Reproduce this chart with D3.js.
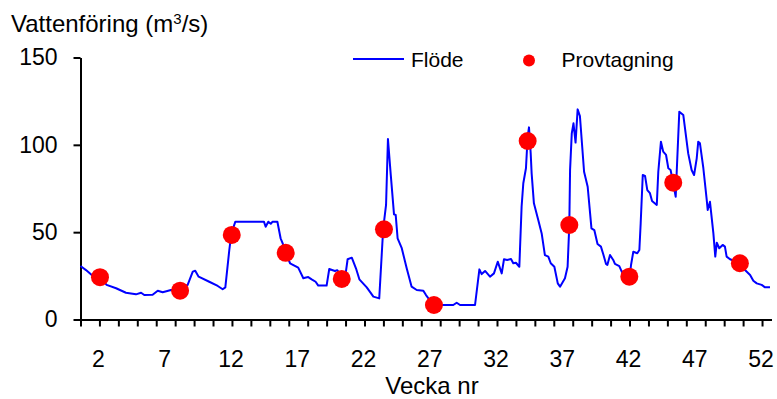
<!DOCTYPE html>
<html><head><meta charset="utf-8">
<script src="https://cdn.jsdelivr.net/npm/d3@7"></script>
<style>
body{margin:0;background:#fff}
svg{display:block}
text{font-family:"Liberation Sans",Arial,Helvetica,sans-serif;fill:#000}
</style>
</head><body>
<svg id="c" width="777" height="399"></svg>
<script>
// Daily flow (day of year) and values in m3/s
const flowDay = [0,2.9,6.1,10.3,13.8,18.8,24.0,29.3,32.0,33.7,38.1,40.8,43.4,47.8,52.6,56.6,59.3,60.6,62.4,68.0,72.5,75.1,76.5,78.6,79.7,81.8,96.9,97.8,99.2,100.5,101.5,104.0,105.7,106.8,108.4,110.7,115.0,117.7,118.6,120.3,122.1,124.2,125.6,130.0,131.4,134.4,135.6,138.0,140.2,141.1,143.3,145.5,147.3,151.2,154.7,157.8,159.9,161.4,162.4,163.9,165.6,166.5,167.5,169.7,172.3,174.9,177.6,181.1,182.5,186.4,196.9,198.7,200.5,208.4,210.7,211.9,213.7,216.3,218.4,220.4,222.5,223.7,225.4,227.4,228.6,230.0,231.8,233.0,233.9,235.3,236.2,236.9,237.8,238.3,239.5,241.8,243.6,245.3,247.1,248.4,250.3,252.1,253.3,255.9,257.3,258.2,258.6,259.5,260.4,261.5,262.6,263.8,266.0,267.9,269.9,271.4,273.1,274.9,276.1,277.6,278.3,279.7,281.4,282.3,284.6,285.9,288.1,289.9,290.8,292.0,294.1,295.2,295.9,297.0,298.2,299.4,300.8,301.9,304.4,305.2,306.6,307.8,309.3,310.5,311.7,313.1,314.4,314.9,316.3,318.4,321.0,322.8,324.1,325.5,326.3,327.2,329.0,330.8,331.3,332.5,334.3,335.3,336.1,337.4,339.2,340.4,341.3,343.1,348.4,351.0,353.7,355.4,357.2,359.8,361.6,364.2];
const flowValue = [30.6,28.3,25.3,24.0,19.8,17.9,15.3,14.4,15.3,14.0,14.2,16.5,15.6,16.9,16.6,19.8,27.4,27.9,24.5,21.6,19.2,17.3,18.4,39.8,49.3,56.0,56.0,53.1,56.0,54.8,56.0,56.0,46.5,43.6,38.2,32.2,29.7,23.6,23.9,24.3,23.0,21.6,19.4,19.4,28.9,27.8,28.2,24.9,27.4,34.5,35.4,29.3,23.0,18.4,13.1,12.1,52.2,65.6,103.3,82.7,60.2,59.8,46.5,40.8,29.3,18.8,16.9,16.5,14.0,8.3,8.3,9.6,8.3,8.3,28.7,26.0,27.8,24.5,26.4,33.1,26.4,34.5,34.1,34.6,32.2,32.5,30.2,64.6,78.0,86.6,104.7,110.0,95.1,83.7,66.5,57.0,49.3,36.9,36.0,32.2,30.2,20.7,18.8,23.6,30.2,54.1,85.6,106.6,112.3,101.3,120.3,116.5,84.6,76.0,52.2,51.2,43.2,41.7,37.5,31.8,31.2,36.9,34.1,31.8,30.6,27.4,23.8,22.6,31.2,38.8,37.9,39.8,55.1,82.7,82.2,74.1,72.3,67.8,65.6,84.6,101.8,96.1,94.2,86.6,85.6,78.0,70.3,83.7,119.0,117.1,95.1,85.6,82.7,92.3,101.8,100.9,86.6,68.4,62.7,67.4,49.3,36.0,44.0,40.8,42.7,41.7,36.0,34.5,32.2,28.3,25.5,22.2,20.7,19.8,18.4,18.4];
// Sampling occasions
const sampleDay = [10.3,52.6,79.9,108.4,138.0,160.3,186.7,236.2,258.2,289.9,313.1,348.3];
const sampleValue = [24.2,16.5,48.4,38.2,23.2,51.6,8.3,102.2,54.1,24.5,78.3,32.2];
// Axis labels
const weekLabels = [2,7,12,17,22,27,32,37,42,47,52];
const yTicks = [0,50,100,150];
const dayTicks = d3.range(0, 361, 10);

const svg = d3.select("#c");
const x = d3.scaleLinear().domain([0,365]).range([80.5,771.5]);
const y = d3.scaleLinear().domain([0,150]).range([319.5,57.5]);
const weekDay = w => 7*w - 4.5;

// Y axis
const gy = svg.append("g").attr("transform","translate(80.5,0)")
  .call(d3.axisLeft(y).tickValues(yTicks).tickSize(7).tickSizeOuter(0).tickPadding(16));
gy.select(".domain").attr("stroke","#000").attr("stroke-width",2);
gy.selectAll(".tick line").attr("stroke","#000").attr("stroke-width",2);
gy.selectAll(".tick text").attr("font-size",23).attr("font-family","Liberation Sans, Arial, sans-serif").attr("fill","#000");

// X axis
const gx = svg.append("g").attr("transform","translate(0,319.5)")
  .call(d3.axisBottom(x).tickValues(dayTicks).tickSize(7).tickSizeOuter(0).tickFormat(""));
gx.select(".domain").attr("stroke","#000").attr("stroke-width",2);
gx.selectAll(".tick line").attr("stroke","#000").attr("stroke-width",2);

svg.append("g").selectAll("text").data(weekLabels).join("text")
  .attr("x", d => x(weekDay(d))).attr("y", 367)
  .attr("text-anchor","middle").attr("font-size",23).text(d => d);

// Titles
const t = svg.append("text").attr("x",11).attr("y",32).attr("font-size",24);
t.append("tspan").text("Vattenföring (m");
t.append("tspan").attr("font-size",15).attr("dy",-8).text("3");
t.append("tspan").attr("dy",8).text("/s)");
svg.append("text").attr("x",432).attr("y",394).attr("text-anchor","middle").attr("font-size",24).text("Vecka nr");

// Flow line
const flow = flowDay.map((d,i)=>({d, v: flowValue[i]}));
svg.append("path").datum(flow)
  .attr("fill","none").attr("stroke","#0000ff").attr("stroke-width",2).attr("stroke-linejoin","round")
  .attr("d", d3.line().x(p=>x(p.d)).y(p=>y(p.v)));

// Samples
const samples = sampleDay.map((d,i)=>({d, v: sampleValue[i]}));
svg.append("g").selectAll("circle").data(samples).join("circle")
  .attr("cx", p=>x(p.d)).attr("cy", p=>y(p.v)).attr("r",9).attr("fill","#ff0000");

// Legend
const lg = svg.append("g");
lg.append("line").attr("x1",353).attr("x2",404).attr("y1",59).attr("y2",59).attr("stroke","#0000ff").attr("stroke-width",2);
lg.append("text").attr("x",411).attr("y",66.5).attr("font-size",21).text("Flöde");
lg.append("circle").attr("cx",529).attr("cy",60.5).attr("r",6).attr("fill","#ff0000");
lg.append("text").attr("x",561.5).attr("y",66.5).attr("font-size",21).text("Provtagning");
</script>
</body></html>
